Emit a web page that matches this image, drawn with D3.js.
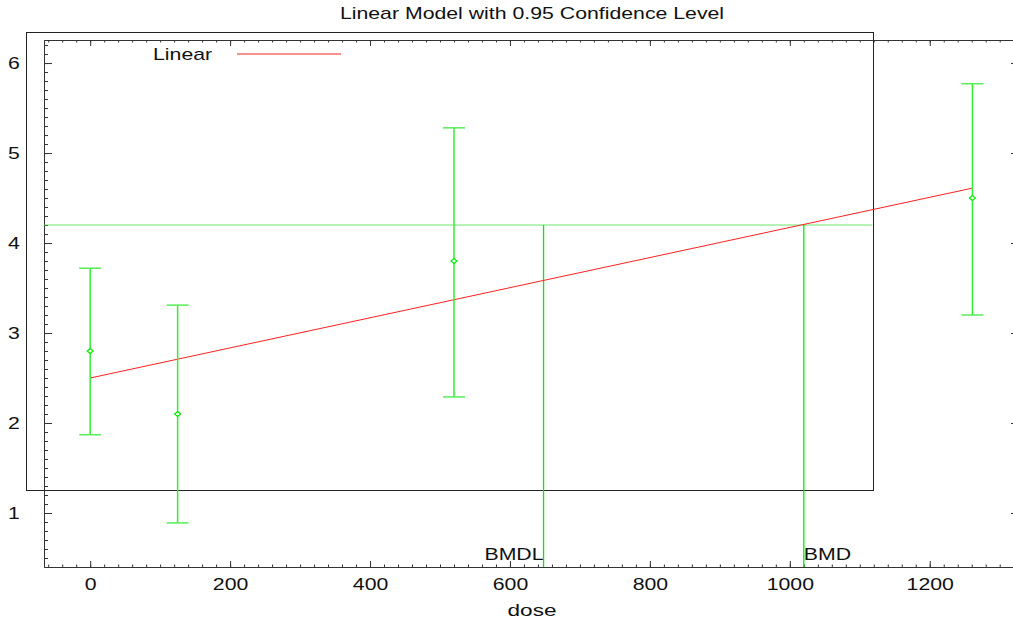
<!DOCTYPE html>
<html>
<head>
<meta charset="utf-8">
<script src="https://cdn.jsdelivr.net/npm/d3@7"></script>
<style>
	body { margin: 0; background: #fff; }
	svg { font-family: "Liberation Sans", Arial, sans-serif; }
</style>
</head>
<body>
<svg id="chart"></svg>
<script>
	// data
	let doses = [0, 125, 520, 1261];
	let means = [2.8, 2.1, 3.8, 4.5];
	let lower = [1.87, 0.89, 2.29, 3.2];
	let upper = [3.72, 3.31, 5.28, 5.77];
	let fitStart = [0, 2.5];
	let fitEnd = [1261, 4.61];
	let bmdl = 648;
	let bmd = 1020;
	let bmr = 4.2;
	let xTicks = [0, 200, 400, 600, 800, 1000, 1200];
	let yTicks = [1, 2, 3, 4, 5, 6];

	let width = 1013;
	let height = 621;
	let green = '#00ee00';
	let stretch = 1.33; // the original font is drawn wide

	let svg = d3.select('#chart')
		.attr('width', width)
		.attr('height', height);

	let x = d3.scaleLinear().domain([-66, 1319]).range([44, 1013]);
	let y = d3.scaleLinear().domain([0.4, 6.256]).range([567, 40]);

	// wide text: put it in a group at (px,py) and stretch it sideways
	function wideText(px, py, str, anchor, size) {
		return svg.append('text')
			.attr('transform', 'translate(' + px + ',' + py + ') scale(' + stretch + ',1)')
			.attr('text-anchor', anchor || 'start')
			.attr('fill', '#111')
			.style('font-size', (size || 16) + 'px')
			.text(str);
	}

	// legend frame
	svg.append('rect')
		.attr('x', 26.5).attr('y', 32.5)
		.attr('width', 847).attr('height', 458)
		.attr('fill', 'none')
		.attr('stroke', '#222')
		.attr('stroke-width', 1);

	let minorX = d3.range(-60, 1320, 20);
	let minorY = d3.range(0.5, 6.25, 0.1);

	function axisStyle(g) {
		g.selectAll('path').attr('stroke', '#333');
		g.selectAll('line').attr('stroke', '#333');
		g.selectAll('text')
			.attr('fill', '#111')
			.style('font-size', '16px')
			.style('font-family', '"Liberation Sans", Arial, sans-serif');
	}

	// bottom axis
	svg.append('g')
		.attr('transform', 'translate(0,567)')
		.call(d3.axisBottom(x).tickValues(minorX).tickSize(-2.5).tickSizeOuter(0).tickFormat(''))
		.call(axisStyle);
	let bottom = svg.append('g')
		.attr('transform', 'translate(0,567)')
		.call(d3.axisBottom(x).tickValues(xTicks).tickSizeInner(-6).tickSizeOuter(0).tickPadding(12).tickFormat(d3.format('d')))
		.call(axisStyle);
	bottom.selectAll('text').attr('transform', 'scale(' + stretch + ',1)');

	// top axis
	svg.append('g')
		.attr('transform', 'translate(0,40)')
		.call(d3.axisTop(x).tickValues(minorX).tickSize(-2.5).tickSizeOuter(0).tickFormat(''))
		.call(axisStyle);
	svg.append('g')
		.attr('transform', 'translate(0,40)')
		.call(d3.axisTop(x).tickValues(xTicks).tickSize(-6).tickSizeOuter(0).tickFormat(''))
		.call(axisStyle);

	// left axis
	svg.append('g')
		.attr('transform', 'translate(44,0)')
		.call(d3.axisLeft(y).tickValues(minorY).tickSize(-4).tickSizeOuter(0).tickFormat(''))
		.call(axisStyle);
	let left = svg.append('g')
		.attr('transform', 'translate(44,0)')
		.call(d3.axisLeft(y).tickValues(yTicks).tickSizeInner(-8).tickSizeOuter(0).tickFormat(d3.format('d')))
		.call(axisStyle);
	left.selectAll('text')
		.attr('text-anchor', 'middle')
		.attr('x', -30 / stretch)
		.attr('transform', 'scale(' + stretch + ',1)');

	// right axis, only small integer ticks
	svg.append('g')
		.attr('transform', 'translate(1013,0)')
		.call(d3.axisRight(y).tickValues(yTicks).tickSize(-2).tickSizeOuter(0).tickFormat(''))
		.call(axisStyle);

	// BMR level and BMD/BMDL markers
	svg.append('line')
		.attr('x1', 44).attr('x2', x(1118))
		.attr('y1', y(bmr)).attr('y2', y(bmr))
		.attr('stroke', '#44dd44').attr('stroke-width', 0.8);

	svg.selectAll('.bmdLine')
		.data([bmdl, bmd])
		.enter()
		.append('line')
		.attr('class', 'bmdLine')
		.attr('x1', d => x(d)).attr('x2', d => x(d))
		.attr('y1', y(bmr)).attr('y2', 567)
		.attr('stroke', green).attr('stroke-width', 1.3);

	wideText(x(bmdl), 560, 'BMDL', 'end');
	wideText(x(bmd), 560, 'BMD', 'start');

	// fitted line
	svg.append('line')
		.attr('x1', x(fitStart[0])).attr('y1', y(fitStart[1]))
		.attr('x2', x(fitEnd[0])).attr('y2', y(fitEnd[1]))
		.attr('stroke', '#ff2020').attr('stroke-width', 1);

	// error bars
	let bars = svg.append('g').attr('class', 'errorBars')
		.selectAll('g')
		.data(doses.map((d, i) => ({ dose: d, mean: means[i], lo: lower[i], hi: upper[i] })))
		.enter()
		.append('g');

	bars.append('line')
		.attr('x1', d => x(d.dose)).attr('x2', d => x(d.dose))
		.attr('y1', d => y(d.hi)).attr('y2', d => y(d.lo))
		.attr('stroke', '#33ee33').attr('stroke-width', 1.5);
	bars.selectAll('.cap')
		.data(d => [[d.dose, d.hi], [d.dose, d.lo]])
		.enter()
		.append('line')
		.attr('x1', d => x(d[0]) - 11).attr('x2', d => x(d[0]) + 11)
		.attr('y1', d => y(d[1])).attr('y2', d => y(d[1]))
		.attr('stroke', '#55ee55').attr('stroke-width', 1.5);
	bars.append('path')
		.attr('d', d => {
			let cx = x(d.dose), cy = y(d.mean);
			return 'M' + (cx - 3) + ',' + cy + 'L' + cx + ',' + (cy - 2.5) + 'L' + (cx + 3) + ',' + cy + 'L' + cx + ',' + (cy + 2.5) + 'Z';
		})
		.attr('fill', '#fff')
		.attr('stroke', green).attr('stroke-width', 1.2);

	// legend
	wideText(153, 60, 'Linear', 'start');
	svg.append('line')
		.attr('x1', 237).attr('x2', 341)
		.attr('y1', 54).attr('y2', 54)
		.attr('stroke', '#ff2020').attr('stroke-width', 1);

	// titles
	wideText(532, 19, 'Linear Model with 0.95 Confidence Level', 'middle');
	wideText(532, 616, 'dose', 'middle', 17);
</script>
</body>
</html>
